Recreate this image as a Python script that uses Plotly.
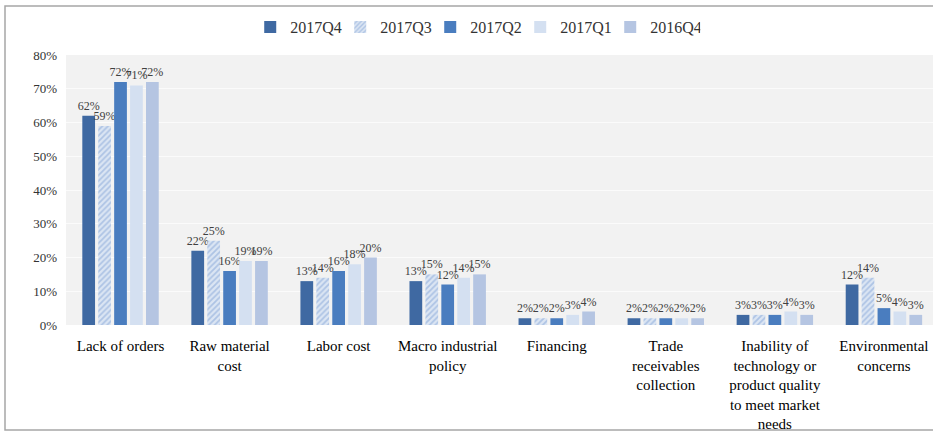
import plotly.graph_objects as go

categories = ["Lack of orders", "Raw material<br>cost", "Labor cost", "Macro industrial<br>policy",
              "Financing", "Trade<br>receivables<br>collection",
              "Inability of<br>technology or<br>product quality<br>to meet market<br>needs",
              "Environmental<br>concerns"]
series_names = ["2017Q4", "2017Q3", "2017Q2", "2017Q1", "2016Q4"]
q4_2017 = [0.62, 0.22, 0.13, 0.13, 0.02, 0.02, 0.03, 0.12]
q3_2017 = [0.59, 0.25, 0.14, 0.15, 0.02, 0.02, 0.03, 0.14]
q2_2017 = [0.72, 0.16, 0.16, 0.12, 0.02, 0.02, 0.03, 0.05]
q1_2017 = [0.71, 0.19, 0.18, 0.14, 0.03, 0.02, 0.04, 0.04]
q4_2016 = [0.72, 0.19, 0.20, 0.15, 0.04, 0.02, 0.03, 0.03]
y_ticks = [0, 0.1, 0.2, 0.3, 0.4, 0.5, 0.6, 0.7, 0.8]

values = [q4_2017, q3_2017, q2_2017, q1_2017, q4_2016]
colors = ["#3f69a2", "#dbe5f3", "#4a7dbf", "#d4e0f1", "#b5c5e2"]
FONT = "Liberation Serif"

fig = go.Figure()
for i, (name, vals, col) in enumerate(zip(series_names, values, colors)):
    marker = dict(color=col, line=dict(width=0))
    if name == "2017Q3":
        marker["pattern"] = dict(shape="/", fgcolor="#7fa2d6", bgcolor="#dbe5f3",
                                 size=4, solidity=0.45)
    fig.add_trace(go.Bar(
        x=list(range(len(categories))), y=vals, name=name, marker=marker,
        text=[f"{round(v*100)}%" for v in vals], textposition="outside",
        textfont=dict(family=FONT, size=12, color="#404040"),
        cliponaxis=False, constraintext="none", hoverinfo="skip",
    ))

W, H = 933, 432
L, R, T, B = 66, 0, 55, 107
pw, ph = W - L - R, H - T - B

def px_x(x):
    return (x - L) / pw

def px_y(y):
    return (H - B - y) / ph

fig.update_layout(
    width=W, height=H,
    margin=dict(l=L, r=R, t=T, b=B),
    paper_bgcolor="white", plot_bgcolor="#f2f2f2",
    barmode="group", bargap=0.27, bargroupgap=0.2,
    font=dict(family=FONT, color="#000000"),
    legend=dict(orientation="h", x=0.472, xanchor="center", y=px_y(27), yanchor="middle",
                font=dict(family=FONT, size=16, color="#333333"),
                entrywidth=45, traceorder="normal", bgcolor="rgba(0,0,0,0)"),
    xaxis=dict(tickmode="array", tickvals=list(range(len(categories))), ticktext=categories,
               range=[-0.5, 7.45], showgrid=False, zeroline=False, showline=False,
               tickfont=dict(family=FONT, size=15, color="#000000"), ticks="",
               ticklabelstandoff=10),
    yaxis=dict(range=[0, 0.8], tickvals=y_ticks, tickformat=".0%",
               showgrid=True, gridcolor="#fbfbfb", gridwidth=1, zeroline=False,
               tickfont=dict(family=FONT, size=13, color="#333333"),
               ticklabelstandoff=8),
    shapes=[dict(type="rect", xref="paper", yref="paper",
                 x0=px_x(5), x1=px_x(945), y0=px_y(430), y1=px_y(6),
                 line=dict(color="#a6a6a6", width=1.5), fillcolor="rgba(0,0,0,0)",
                 layer="above")],
)

fig.write_html("out.html", config={"displayModeBar": False},
               post_script="document.body.style.margin='0';document.body.style.overflow='hidden';")
